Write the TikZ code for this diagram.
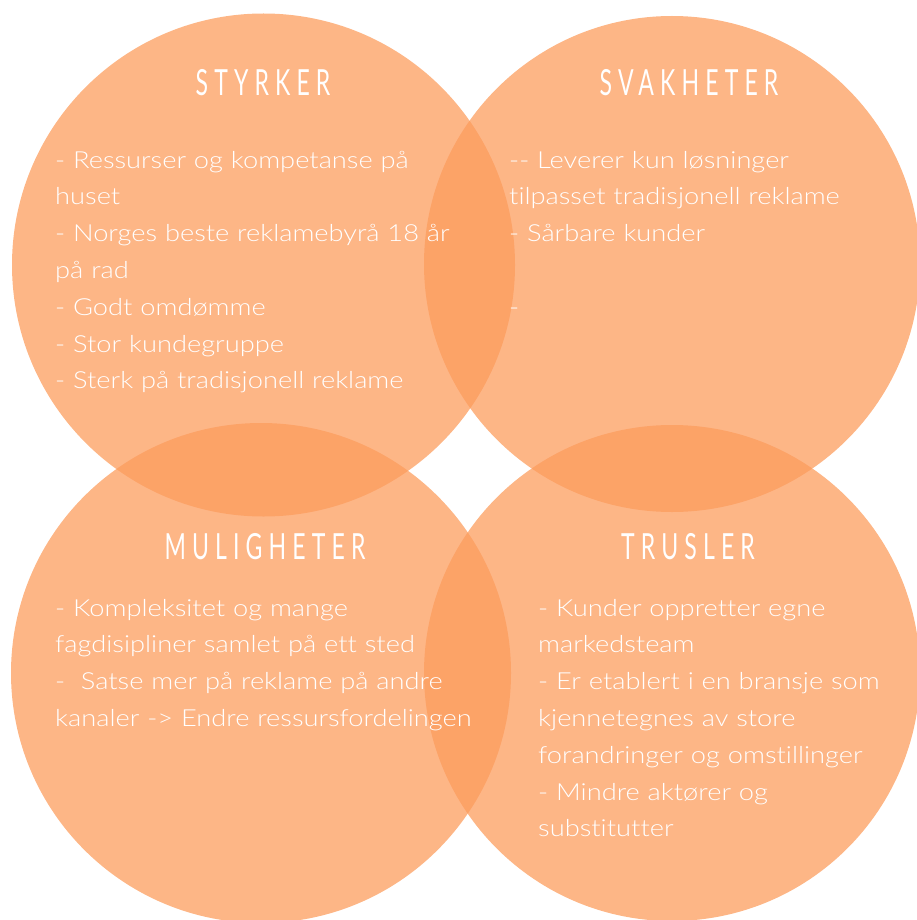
\documentclass[tikz,border=0pt]{standalone}
\usepackage{fontspec}
\setmainfont{Lato Light}[FakeStretch=1.16, Ligatures=NoCommon]
\newfontfamily\titlefont{Lato}[FakeStretch=0.64, LetterSpace=17]
\definecolor{swotorange}{RGB}{252,156,92}
\tikzset{
  swotcircle/.style={fill=swotorange, fill opacity=0.74, draw=none},
  swottitle/.style={text=white, anchor=base, inner sep=0pt, font=\titlefont\fontsize{36}{36}\selectfont},
  swotbody/.style={text=white, anchor=base west, inner sep=0pt, align=left, text width=420pt,
    font=\fontsize{23.5}{36.8}\selectfont}
}
\begin{document}
\begin{tikzpicture}[x=1pt,y=-1pt]
\useasboundingbox (0,0) rectangle (917,920);
\begin{scope}
\clip (0,0) rectangle (917,920);
\fill[swotcircle] (263.5,265) circle (251.5);
\fill[swotcircle] (672,264) circle (248);
\fill[swotcircle] (261,673) circle (250);
\fill[swotcircle] (672,673) circle (248);
\end{scope}
\node[swottitle] (ts) at (263,96) {STYRKER};
\node[swottitle] (tw) at (689,96) {SVAKHETER};
\node[swottitle] (to) at (265,559) {MULIGHETER};
\node[swottitle] (tt) at (688,559) {TRUSLER};
\node[swotbody] (bs) at (55,168) {- Ressurser og kompetanse på\\huset\\- Norges beste reklamebyrå 18 år\\på rad\\- Godt omdømme\\- Stor kundegruppe\\- Sterk på tradisjonell reklame};
\node[swotbody] (bw) at (509,168) {-{}- Leverer kun løsninger\\tilpasset tradisjonell reklame\\- Sårbare kunder\\~\\-};
\node[swotbody] (bo) at (55,616) {- Kompleksitet og mange\\fagdisipliner samlet på ett sted\\-~ Satse mer på reklame på andre\\kanaler -> Endre ressursfordelingen};
\node[swotbody] (bt) at (538,616) {- Kunder oppretter egne\\markedsteam\\- Er etablert i en bransje som\\kjennetegnes av store\\forandringer og omstillinger\\- Mindre aktører og\\substitutter};
\end{tikzpicture}
\end{document}
